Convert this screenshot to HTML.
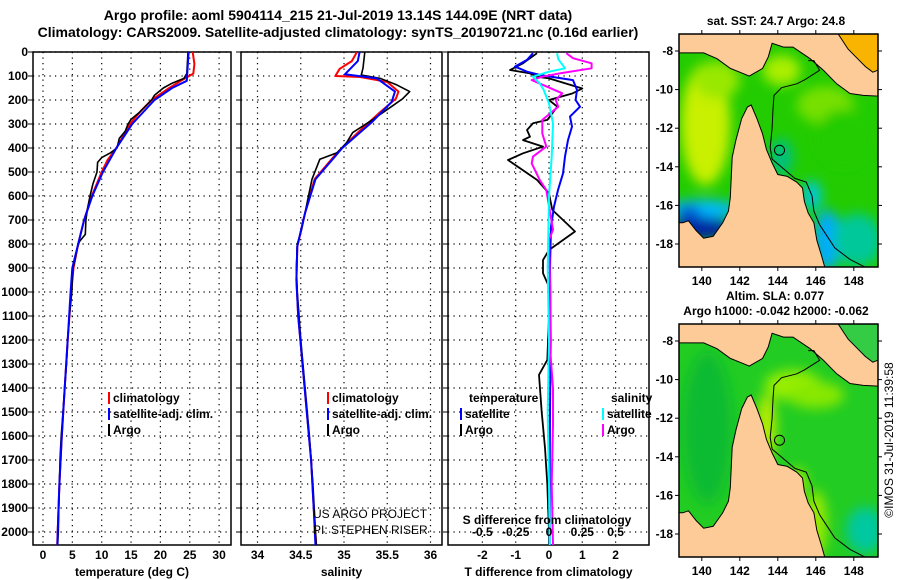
<!DOCTYPE html>
<html><head><meta charset="utf-8"><style>
body{margin:0;background:#fff;}
svg{display:block;font-family:"Liberation Sans",sans-serif;}
.t{font-weight:bold;font-size:14px;}
.tk{font-weight:bold;font-size:12px;}
</style></head><body>
<svg id="c" width="900" height="580" viewBox="0 0 900 580" xmlns="http://www.w3.org/2000/svg">
<defs>
<clipPath id="cp1"><rect x="33" y="52" width="198" height="493"/></clipPath>
<clipPath id="cp2"><rect x="241" y="52" width="201" height="493"/></clipPath>
<clipPath id="cp3"><rect x="448" y="52" width="201" height="493"/></clipPath>
<clipPath id="m1"><rect x="679" y="34" width="199" height="233"/></clipPath>
<clipPath id="m2"><rect x="679" y="324" width="199" height="233"/></clipPath>
<filter id="bl" x="-50%" y="-50%" width="200%" height="200%"><feGaussianBlur stdDeviation="6"/></filter>
</defs>
<text class="t" x="338" y="20" text-anchor="middle">Argo profile: aoml 5904114_215 21-Jul-2019 13.14S 144.09E (NRT data)</text>
<text class="t" x="338" y="37" text-anchor="middle">Climatology: CARS2009. Satellite-adjusted climatology: synTS_20190721.nc (0.16d earlier)</text>
<g id="plots"></g>
<g id="maps"></g>
</svg>
<script>
// ---- data ----
const depthTicks=[0,100,200,300,400,500,600,700,800,900,1000,1100,1200,1300,1400,1500,1600,1700,1800,1900,2000];
const tempTicks=[0,5,10,15,20,25,30];
const salTicks=[34,34.5,35,35.5,36];
const tdiffTicks=[-2,-1,0,1,2];
const sdiffTicks=[-0.5,-0.25,0,0.25,0.5];
const sdiffLabels=["-0.5","-0.25","0","0.25","0.5"];

const argoTD=[0,90,110,130,150,180,200,250,280,300,330,360,400,420,440,460,500,550,600,650,700,760,790,820,860,900,1000,1100,1200,1300,1400,1500,1600,1700,1800,1900,2000,2055];
const argoT=[24.7,24.5,24.0,22,20.5,19,18.5,16.5,15,14.5,14,13,12.6,11.5,10,9.3,9.2,8.5,8,7.6,7.3,7.2,6.2,5.8,5.5,5.1,4.9,4.5,4.2,4.0,3.7,3.4,3.1,2.9,2.8,2.7,2.6,2.5];
const climTD=[0,50,90,120,150,200,250,300,400,450,500,600,700,800,900,1000,1200,1400,1600,1800,2000,2060];
const climT=[25.5,25.8,25.6,23.5,21.5,18.5,16.5,14.8,12.5,11,10,8.3,7,6,5.2,4.8,4.2,3.7,3.2,2.8,2.5,2.4];
const satTD=[0,120,150,200,300,400,500,600,700,800,900,1000,1200,1400,1600,1800,2000,2060];
const satT=[24.8,24.5,22,19,15.2,12.5,10.2,8.4,7,6,5,4.7,4.2,3.7,3.2,2.8,2.5,2.45];

const argoSD=[0,67,96,110,137,165,194,222,280,308,336,378,420,447,530,600,740,800,900,1000,1200,1400,1600,1800,2000,2055];
const argoS=[35.24,35.22,35.2,35.42,35.61,35.76,35.68,35.57,35.34,35.22,35.1,35.03,34.92,34.72,34.63,34.59,34.51,34.46,34.45,34.46,34.5,34.55,34.6,34.64,34.67,34.68];
const climSD=[0,38,70,100,104,125,165,194,250,336,420,530,670,810,950,1100,1300,1500,1700,1900,2060];
const climS=[35.15,35.09,34.95,34.9,35.19,35.5,35.63,35.6,35.42,35.16,34.92,34.66,34.55,34.46,34.45,34.47,34.52,34.57,34.62,34.65,34.68];
const satSD=[0,38,93,110,165,208,290,400,530,670,810,950,1100,1300,1500,1700,1900,2060];
const satS=[35.18,35.16,35.01,35.38,35.59,35.55,35.33,34.98,34.67,34.55,34.46,34.45,34.47,34.52,34.57,34.62,34.65,34.67];

const dTD=[5,47,75,89,103,110,152,173,200,228,283,297,325,353,367,394,422,450,533,589,658,714,748,825,867,922,978,1100,1283,1345,1500,1650,1800,2000,2055];
const argoTdiff=[-0.36,-0.78,-1.17,-0.57,-0.36,0,1.0,0.7,0,0.25,-0.05,-0.48,-0.66,-0.57,-0.78,-0.18,-0.78,-1.23,-0.36,0,0.1,0.53,0.78,0,-0.18,-0.18,0,0,-0.05,-0.3,-0.22,-0.12,-0.05,0,0];
const sTD=[5,33,61,82,96,117,158,200,228,269,311,367,436,506,575,644,728,900,1200,1500,1800,2055];
const satTdiff=[-0.48,-0.66,-1.02,-0.66,-0.27,0.72,0.84,0.8,0.93,0.63,0.69,0.57,0.48,0.42,0.27,0.15,0.06,0.03,0.05,0.03,0.02,0.02];
const cSD=[5,30,68,82,103,131,158,186,214,297,436,600,900,1200,1500,1800,2055];
const satSdiff=[0.06,0.07,0.12,0,-0.12,-0.07,-0.04,-0.02,0,0.03,0.02,0.0,-0.01,0.0,-0.01,0.0,0.005];
const mSD=[5,26,47,68,89,103,117,172,200,228,283,339,394,436,464,533,575,740,783,1000,1250,1400,1550,1800,2055];
const argoSdiff=[0.13,0.18,0.32,0.32,0.08,-0.05,-0.13,0.1,0.05,0.07,-0.05,-0.05,-0.02,-0.12,-0.13,-0.07,-0.02,0.03,0,0.01,0.01,0.03,0.03,0.02,0.03];

// ---- helpers ----
const NS="http://www.w3.org/2000/svg";
function mk(tag,attrs,parent,txt){const e=document.createElementNS(NS,tag);for(const k in attrs)e.setAttribute(k,attrs[k]);if(txt!==undefined)e.textContent=txt;parent.appendChild(e);return e;}
const yD=d=>52+d*0.24;
const P=document.getElementById('plots');
const panels=[
 {x0:33,x1:231,sx:v=>43+5.87*v,ticks:tempTicks,lab:tempTicks.map(String),title:"temperature (deg C)",clip:"cp1",name:"temperature"},
 {x0:241,x1:442,sx:v=>257.5+86.5*(v-34),ticks:salTicks,lab:salTicks.map(String),title:"salinity",clip:"cp2",name:"salinity"},
 {x0:448,x1:649,sx:v=>549+33.3*v,ticks:tdiffTicks,lab:tdiffTicks.map(String),title:"T difference from climatology",clip:"cp3",name:"difference"}
];
function line(g,xs,ds,sx,color,w,name){
  const pts=xs.map((v,i)=>sx(v).toFixed(1)+","+yD(ds[i]).toFixed(1)).join(" ");
  const e=mk('polyline',{points:pts,fill:'none',stroke:color,'stroke-width':w,'stroke-linejoin':'round'},g);
  
  
}
panels.forEach((p,pi)=>{
  const g=mk('g',{},P);
  
  
  depthTicks.forEach(d=>{
    const gl=mk('line',{x1:p.x0,x2:p.x1,y1:yD(d),y2:yD(d),stroke:'#000','stroke-width':1.2,'stroke-dasharray':'1.2 4.3'},g);
    
    
    const tk=mk('line',{x1:p.x0-5,x2:p.x0,y1:yD(d),y2:yD(d),stroke:'#000','stroke-width':1},g);
    
    
    if(pi===0){
      const t=mk('text',{class:'tk',x:28,y:yD(d)+4,'text-anchor':'end'},g,String(d));
      
      
    }
  });
  p.ticks.forEach((v,i)=>{
    const x=p.sx(v);
    const gl=mk('line',{x1:x,x2:x,y1:52,y2:545,stroke:'#000','stroke-width':1.2,'stroke-dasharray':'1.2 4.3'},g);
    
    
    const t=mk('text',{class:'tk',x:x,y:559,'text-anchor':'middle'},g,p.lab[i]);
    
    
  });
  const ax=mk('rect',{x:p.x0,y:52,width:p.x1-p.x0,height:493,fill:'none',stroke:'#000','stroke-width':1.5},g);
  
  
  const tt=mk('text',{class:'tk',x:(p.x0+p.x1)/2,y:576,'text-anchor':'middle'},g,p.title);
  
  
  p.g=mk('g',{'clip-path':'url(#'+p.clip+')'},g);
});
const sdx=v=>549+33.3*v*4;
sdiffTicks.forEach((v,i)=>{
  const t=mk('text',{class:'tk',x:sdx(v),y:536,'text-anchor':'middle'},P,sdiffLabels[i]);
  
  
});
{const t=mk('text',{class:'tk',x:547,y:524,'text-anchor':'middle'},P,'S difference from climatology');

}

const g1=panels[0].g,g2=panels[1].g,g3=panels[2].g;
line(g1,climT,climTD,panels[0].sx,'#ff0000',2,'temp-climatology-line');
line(g1,argoT,argoTD,panels[0].sx,'#000000',1.6,'temp-argo-line');
line(g1,satT,satTD,panels[0].sx,'#0000ff',2,'temp-satellite-line');
line(g2,climS,climSD,panels[1].sx,'#ff0000',2,'sal-climatology-line');
line(g2,argoS,argoSD,panels[1].sx,'#000000',1.6,'sal-argo-line');
line(g2,satS,satSD,panels[1].sx,'#0000ff',2,'sal-satellite-line');
line(g3,argoTdiff,dTD,panels[2].sx,'#000000',1.8,'tdiff-argo-line');
line(g3,satTdiff,sTD,panels[2].sx,'#0000ff',2,'tdiff-satellite-line');
line(g3,argoSdiff,mSD,sdx,'#ff00ff',2,'sdiff-argo-line');
line(g3,satSdiff,cSD,sdx,'#00ffff',2,'sdiff-satellite-line');

function leg(x,y,color,label,name){
  const g=mk('g',{},P);
  
  
  if(color) mk('rect',{x:x,y:y-10,width:2,height:12,fill:color},g);
  mk('text',{class:'tk',x:x+5,y:y},g,label);
}
leg(108,402,'#ff0000','climatology','legend-climatology');
leg(108,418,'#0000ff','satellite-adj. clim.','legend-satellite-adj');
leg(108,434,'#000000','Argo','legend-argo');
leg(327,402,'#ff0000','climatology','legend-climatology-sal');
leg(327,418,'#0000ff','satellite-adj. clim.','legend-satellite-adj-sal');
leg(327,434,'#000000','Argo','legend-argo-sal');
leg(464,402,null,'temperature','legend-temperature-heading');
leg(460,418,'#0000ff','satellite','legend-t-satellite');
leg(460,434,'#000000','Argo','legend-t-argo');
leg(606,402,null,'salinity','legend-salinity-heading');
leg(602,418,'#00ffff','satellite','legend-s-satellite');
leg(602,434,'#ff00ff','Argo','legend-s-argo');
{const t=mk('text',{x:313,y:518,'font-size':'12px'},P,'US ARGO PROJECT');
const t2=mk('text',{x:313,y:534,'font-size':'12px'},P,'PI: STEPHEN RISER');}

// ---- maps ----
const M=document.getElementById('maps');
const capeYork=[[138.5,-16.9],[139.0,-16.9],[139.3,-16.8],[139.7,-17.3],[140.1,-17.7],[140.6,-17.6],[141.1,-16.9],[141.4,-16.3],[141.5,-15.6],[141.55,-14.5],[141.6,-13.5],[141.8,-12.6],[142.1,-11.5],[142.4,-10.9],[142.6,-10.8],[142.9,-11.5],[143.2,-12.3],[143.4,-13.1],[143.7,-13.8],[144.0,-14.4],[144.5,-14.5],[145.0,-14.8],[145.3,-15.1],[145.4,-15.8],[145.6,-16.4],[145.9,-16.9],[146.05,-17.8],[146.3,-18.6],[146.5,-19.3],[138.5,-19.3]];
const png=[[138.5,-7.0],[138.5,-8.1],[139.1,-8.1],[140.1,-8.1],[140.8,-8.4],[141.5,-8.9],[142.0,-9.1],[142.5,-9.3],[143.2,-8.9],[143.5,-8.3],[143.7,-7.6],[144.3,-7.8],[144.8,-7.8],[145.7,-8.4],[146.4,-9.0],[147.1,-9.7],[147.8,-10.2],[148.5,-10.3],[149.5,-10.35],[149.5,-7.0]];
const solomon=[[147.1,-7.0],[149.5,-7.0],[149.5,-8.9],[149.0,-9.1],[148.6,-8.8],[148.2,-8.4],[147.7,-7.9]];
const contour=[[145.6,-8.5],[145.9,-8.5],[146.2,-9.0],[145.4,-9.5],[145.0,-9.7],[144.2,-9.9],[143.8,-10.3],[143.75,-11],[143.7,-12.0],[143.6,-13.0],[143.7,-13.6],[144.3,-14.1],[144.9,-14.6],[145.5,-14.8],[145.8,-15.5],[145.9,-16.3],[146.2,-17.0],[146.6,-17.6],[147.0,-18.2],[147.8,-18.8],[148.6,-19.2]];
const lonTicks=[140,142,144,146,148];
const latTicks=[-8,-10,-12,-14,-16,-18];
const argoPos=[144.09,-13.14];
function drawMap(top,clip,blobs,solColor,nm){
  const mx=lo=>679+(lo-138.8)*19.0, my=la=>top+17+(-8-la)*19.3;
  const g=mk('g',{},M);
  
  
  const c=mk('g',{'clip-path':'url(#'+clip+')'},g);
  mk('rect',{x:679,y:top,width:199,height:233,fill:blobs.base},c);
  const bg=mk('g',{filter:'url(#bl)'},c);
  blobs.list.forEach(b=>mk('ellipse',{cx:mx(b[0]),cy:my(b[1]),rx:b[2]*19,ry:b[3]*19,fill:b[4]},bg));
  const poly=(arr,fill,stroke,nm2)=>{const e=mk('polygon',{points:arr.map(p=>mx(p[0]).toFixed(1)+','+my(p[1]).toFixed(1)).join(' '),fill:fill,stroke:stroke,'stroke-width':1},c);};
  poly(capeYork,'#fccb98','#000','cape-york-land');
  poly(png,'#fccb98','#000','png-land');
  poly(solomon,solColor,'#000','solomon-sea');
  const ct=mk('polyline',{points:contour.map(p=>mx(p[0]).toFixed(1)+','+my(p[1]).toFixed(1)).join(' '),fill:'none',stroke:'#000','stroke-width':1},c);
  
  
  const ci=mk('circle',{cx:mx(argoPos[0]),cy:my(argoPos[1]),r:5,fill:'none',stroke:'#000','stroke-width':1},c);
  
  
  const fr=mk('rect',{x:679,y:top,width:199,height:233,fill:'none',stroke:'#000','stroke-width':1.5},g);
  
  
  lonTicks.forEach(l=>{mk('line',{x1:mx(l),x2:mx(l),y1:top,y2:top-4,stroke:'#000'},g);mk('line',{x1:mx(l),x2:mx(l),y1:top+233,y2:top+237,stroke:'#000'},g);
    const t=mk('text',{class:'tk',x:mx(l),y:top+251,'text-anchor':'middle'},g,String(l));});
  latTicks.forEach(l=>{mk('line',{x1:679,x2:675,y1:my(l),y2:my(l),stroke:'#000'},g);mk('line',{x1:878,x2:882,y1:my(l),y2:my(l),stroke:'#000'},g);
    const t=mk('text',{class:'tk',x:673,y:my(l)+4,'text-anchor':'end'},g,String(l));});
}
drawMap(34,'m1',{base:'#22cc00',list:[
 [140.2,-11.8,1.3,3.2,'#c8f000'],[140.8,-9.5,1.2,1.0,'#99e800'],[144.2,-9.0,1.0,0.8,'#aaee00'],[146.5,-10.8,1.5,1.0,'#77e000'],
 [147.5,-12.5,1.5,1.5,'#22cc00'],[140.0,-16.2,2.0,0.5,'#00b8ff'],[140.0,-17.2,1.6,0.6,'#0020a0'],[139.3,-16.4,0.6,0.4,'#0050d0'],
 [146.6,-17.8,0.7,1.6,'#00aaff'],[145.8,-15.5,0.5,0.8,'#00c8e0'],[148.2,-17.8,1.3,1.4,'#00c89a'],[144.2,-13.5,0.6,1.0,'#00c080']]},'#f8b400','sst-map');
drawMap(324,'m2',{base:'#22cc22',list:[
 [140.3,-12.5,1.3,4,'#11bb33'],[144.8,-10.3,1.5,0.8,'#99ee00'],[146.0,-10.8,1.5,0.7,'#88e800'],[143.4,-12.5,0.5,1.8,'#bbee00'],
 [145.0,-15.3,0.5,0.7,'#aaee00'],[146.0,-17.5,0.6,1.8,'#99ea00'],[148.6,-17.8,1.0,1.2,'#00c8a0'],[148.4,-9.0,0.8,0.5,'#44dd00'],[148.6,-7.4,0.8,0.5,'#00bfb0']]},'#33cc44','sla-map');

function txt(x,y,s,nm,extra){const t=mk('text',Object.assign({class:'tk',x:x,y:y,'text-anchor':'middle'},extra||{}),M,s);return t;}
txt(776,25,'sat. SST: 24.7 Argo: 24.8','sst-map-title');
txt(775,300,'Altim. SLA: 0.077','sla-map-title');
txt(776,315,'Argo h1000: -0.042 h2000: -0.062','argo-height-subtitle');
txt(893,440,'©IMOS 31-Jul-2019 11:39:58','imos-credit',{transform:'rotate(-90 893 440)',style:'font-weight:normal;font-size:12px'});
</script>
</body></html>
